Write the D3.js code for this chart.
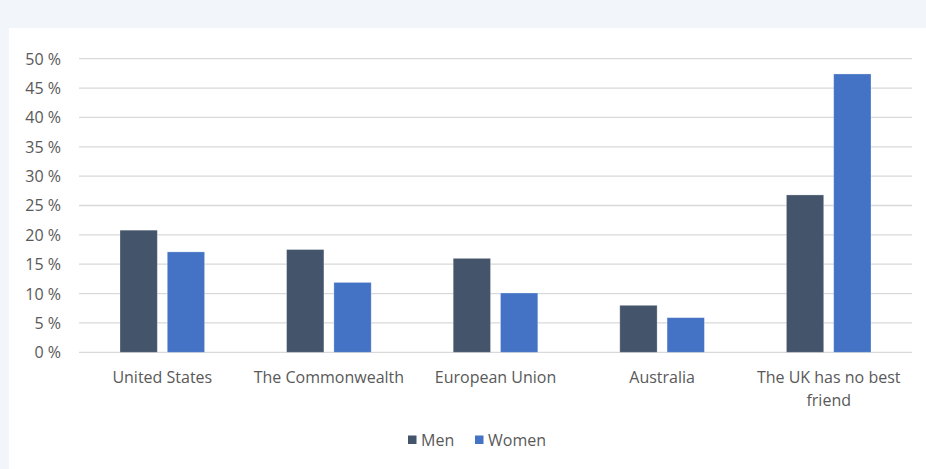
<!DOCTYPE html>
<html>
<head>
<meta charset="utf-8">
<script src="https://cdn.jsdelivr.net/npm/d3@7"></script>
<style>
  html, body { margin: 0; padding: 0; background: #f2f6fa; }
  svg { display: block; }
</style>
</head>
<body>
<svg id="chart" width="926" height="469"></svg>
<script>
const categories = ["United States", "The Commonwealth", "European Union", "Australia", "The UK has no best friend"];
const seriesNames = ["Men", "Women"];
const menValues = [20.8, 17.5, 16.0, 8.0, 26.8];
const womenValues = [17.1, 11.9, 10.1, 5.9, 47.4];
const yTicks = [0, 5, 10, 15, 20, 25, 30, 35, 40, 45, 50];
const colors = ["#44546a", "#4472c4"];

(function () {
const svg = d3.select("#chart");
const font = "'Open Sans', sans-serif";
const textColor = "#595959";
const fs = 16;

// white panel
svg.append("rect").attr("x", 9).attr("y", 28).attr("width", 926 - 9).attr("height", 469 - 28).attr("fill", "#ffffff");

const mLeft = 79, mRight = 912, mTop = 58.7, mBottom = 352.3;

const y = d3.scaleLinear().domain([0, 50]).range([mBottom, mTop]);
const x0 = d3.scaleBand().domain(categories).range([mLeft, mRight]).padding(0);
const x1 = d3.scaleBand().domain(seriesNames).range([0, x0.bandwidth()]).paddingInner(0.211).paddingOuter(0.867);

// gridlines
svg.append("g").selectAll("line").data(yTicks).join("line")
  .attr("x1", mLeft).attr("x2", mRight)
  .attr("y1", d => y(d)).attr("y2", d => y(d))
  .attr("stroke", "#d9d9d9").attr("stroke-width", 1.3);

// y axis labels
const yAxis = d3.axisLeft(y).tickValues(yTicks).tickSize(0).tickPadding(0).tickFormat(d => d + " %");
const gy = svg.append("g").attr("transform", `translate(61,0)`).call(yAxis);
gy.select(".domain").remove();
gy.selectAll("text").attr("font-family", font).attr("font-size", fs).attr("fill", textColor).attr("dy", "0.34em");

// bars
const data = categories.map((c, i) => ({ cat: c, vals: [menValues[i], womenValues[i]] }));
const groups = svg.append("g").selectAll("g").data(data).join("g")
  .attr("transform", d => `translate(${x0(d.cat)},0)`);
groups.selectAll("rect").data(d => d.vals.map((v, j) => ({ s: seriesNames[j], v, j }))).join("rect")
  .attr("x", d => x1(d.s))
  .attr("width", x1.bandwidth())
  .attr("y", d => y(d.v))
  .attr("height", d => y(0) - y(d.v))
  .attr("fill", d => colors[d.j])
  .attr("stroke", "#ffffff").attr("stroke-opacity", 0.35).attr("stroke-width", 0.8);

// x axis labels (wrapped)
const xAxis = d3.axisBottom(x0).tickSize(0).tickPadding(0);
const gx = svg.append("g").attr("transform", `translate(0,${mBottom})`).call(xAxis);
gx.select(".domain").remove();
gx.selectAll("text").each(function(d) {
  const t = d3.select(this);
  t.text(null).attr("font-family", font).attr("font-size", fs).attr("fill", textColor).attr("y", 0).attr("dy", null);
  const lines = d === "The UK has no best friend" ? ["The UK has no best", "friend"] : [d];
  lines.forEach((ln, k) => {
    t.append("tspan").attr("x", 0).attr("y", 30.5 + k * 23).text(ln);
  });
});

// legend
const legend = svg.append("g").attr("transform", "translate(408,440)");
const legendItems = [{ name: seriesNames[0], color: colors[0], x: 0 }, { name: seriesNames[1], color: colors[1], x: 67 }];
legendItems.forEach(it => {
  legend.append("rect").attr("x", it.x).attr("y", -4.5).attr("width", 8.5).attr("height", 8.5).attr("fill", it.color);
  legend.append("text").attr("x", it.x + 13).attr("y", 0).attr("dy", "0.35em")
    .attr("font-family", font).attr("font-size", fs).attr("fill", textColor).text(it.name);
});
})();
</script>
</body>
</html>
